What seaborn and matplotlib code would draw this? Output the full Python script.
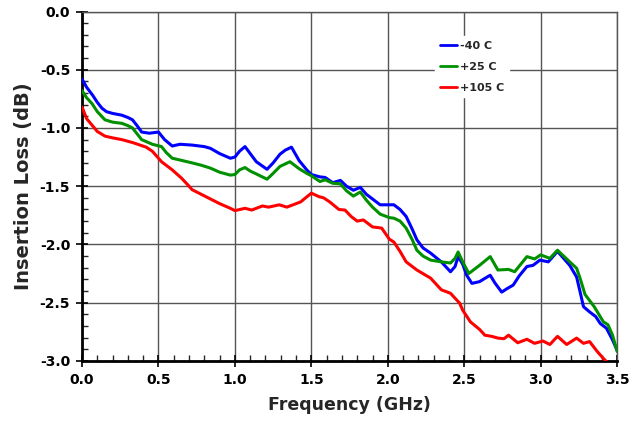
import matplotlib
matplotlib.use('Agg')
import matplotlib.pyplot as plt
from matplotlib.ticker import MultipleLocator, FormatStrFormatter
import numpy as np
import pandas as pd
import seaborn as sns

# -40 C
f_cold = [0.00, 0.03, 0.07, 0.10, 0.13, 0.16, 0.20, 0.26, 0.30, 0.33, 0.36, 0.39, 0.44, 0.50,
          0.54, 0.59, 0.64, 0.72, 0.80, 0.84, 0.90, 0.97, 1.00, 1.03, 1.066, 1.10, 1.14, 1.21,
          1.25, 1.295, 1.33, 1.37, 1.42, 1.47, 1.50, 1.556, 1.59, 1.64, 1.69, 1.73, 1.775, 1.82,
          1.86, 1.90, 1.95, 2.01, 2.04, 2.08, 2.12, 2.16, 2.19, 2.23, 2.28, 2.35, 2.41, 2.44,
          2.46, 2.49, 2.516, 2.55, 2.60, 2.65, 2.67, 2.70, 2.745, 2.78, 2.82, 2.86, 2.91, 2.95,
          2.995, 3.05, 3.11, 3.15, 3.19, 3.235, 3.26, 3.28, 3.32, 3.36, 3.39, 3.43, 3.47, 3.50]
il_cold = [-0.58, -0.65, -0.72, -0.78, -0.83, -0.86, -0.875, -0.89, -0.91, -0.93, -0.98, -1.035,
           -1.045, -1.035, -1.10, -1.155, -1.14, -1.147, -1.16, -1.175, -1.22, -1.26, -1.25, -1.20,
           -1.16, -1.22, -1.29, -1.355, -1.30, -1.225, -1.19, -1.165, -1.28, -1.36, -1.40, -1.42,
           -1.425, -1.47, -1.45, -1.50, -1.535, -1.51, -1.57, -1.61, -1.66, -1.66, -1.66, -1.70,
           -1.76, -1.87, -1.96, -2.03, -2.075, -2.15, -2.235, -2.19, -2.105, -2.17, -2.265, -2.335,
           -2.32, -2.28, -2.265, -2.33, -2.41, -2.38, -2.35, -2.27, -2.19, -2.18, -2.135, -2.15,
           -2.06, -2.12, -2.18, -2.28, -2.42, -2.535, -2.58, -2.62, -2.68, -2.72, -2.82, -2.91]

# +25 C
f_room = [0.00, 0.03, 0.065, 0.10, 0.15, 0.20, 0.26, 0.30, 0.33, 0.36, 0.39, 0.46, 0.52, 0.55,
          0.59, 0.64, 0.72, 0.78, 0.84, 0.90, 0.97, 1.00, 1.03, 1.066, 1.10, 1.14, 1.21, 1.25,
          1.295, 1.36, 1.42, 1.47, 1.50, 1.556, 1.59, 1.64, 1.69, 1.73, 1.775, 1.82, 1.86, 1.90,
          1.95, 2.01, 2.04, 2.08, 2.12, 2.16, 2.19, 2.23, 2.28, 2.35, 2.41, 2.44, 2.46, 2.49,
          2.53, 2.60, 2.67, 2.72, 2.79, 2.83, 2.87, 2.91, 2.96, 3.00, 3.06, 3.11, 3.15, 3.19,
          3.235, 3.26, 3.29, 3.35, 3.41, 3.44, 3.47, 3.50]
il_room = [-0.68, -0.74, -0.79, -0.86, -0.93, -0.95, -0.96, -0.98, -1.00, -1.05, -1.10, -1.14,
           -1.16, -1.21, -1.26, -1.275, -1.30, -1.32, -1.345, -1.38, -1.405, -1.40, -1.36, -1.34,
           -1.37, -1.395, -1.44, -1.39, -1.33, -1.29, -1.35, -1.39, -1.41, -1.46, -1.445, -1.475,
           -1.48, -1.54, -1.585, -1.55, -1.62, -1.68, -1.74, -1.77, -1.775, -1.80, -1.86, -1.96,
           -2.05, -2.10, -2.135, -2.15, -2.16, -2.12, -2.065, -2.15, -2.25, -2.18, -2.105, -2.22,
           -2.215, -2.235, -2.17, -2.105, -2.125, -2.09, -2.12, -2.05, -2.10, -2.15, -2.205, -2.30,
           -2.43, -2.535, -2.665, -2.69, -2.78, -2.92]

# +105 C
f_hot = [0.00, 0.03, 0.065, 0.10, 0.15, 0.20, 0.26, 0.33, 0.42, 0.46, 0.52, 0.59, 0.65, 0.70,
         0.72, 0.78, 0.84, 0.90, 0.97, 1.00, 1.066, 1.11, 1.18, 1.22, 1.29, 1.34, 1.43, 1.50,
         1.55, 1.58, 1.62, 1.68, 1.72, 1.76, 1.80, 1.84, 1.90, 1.96, 2.01, 2.04, 2.08, 2.12,
         2.19, 2.28, 2.35, 2.41, 2.47, 2.49, 2.54, 2.60, 2.635, 2.68, 2.72, 2.76, 2.79, 2.85,
         2.91, 2.96, 3.015, 3.06, 3.11, 3.17, 3.235, 3.28, 3.32, 3.37, 3.41, 3.44]
il_hot = [-0.82, -0.92, -0.975, -1.03, -1.07, -1.085, -1.10, -1.125, -1.165, -1.20, -1.29, -1.36,
          -1.43, -1.50, -1.53, -1.57, -1.61, -1.65, -1.69, -1.71, -1.69, -1.705, -1.67, -1.68,
          -1.66, -1.68, -1.635, -1.56, -1.59, -1.60, -1.635, -1.70, -1.705, -1.76, -1.80, -1.79,
          -1.85, -1.86, -1.955, -1.98, -2.06, -2.15, -2.22, -2.29, -2.39, -2.42, -2.505, -2.565,
          -2.665, -2.73, -2.78, -2.79, -2.805, -2.81, -2.78, -2.845, -2.815, -2.85, -2.83, -2.86,
          -2.79, -2.86, -2.805, -2.85, -2.835, -2.92, -2.98, -3.02]

labels = ['-40 C', '+25 C', '+105 C']
colors = ['#0000ff', '#009000', '#ff0000']

df = pd.concat([
    pd.DataFrame({'freq': f_cold, 'il': il_cold, 'temp': labels[0]}),
    pd.DataFrame({'freq': f_room, 'il': il_room, 'temp': labels[1]}),
    pd.DataFrame({'freq': f_hot, 'il': il_hot, 'temp': labels[2]}),
])

sns.set_style('white')
plt.rcParams['font.family'] = ['DejaVu Sans']
plt.rcParams['font.weight'] = 'bold'
plt.rcParams['lines.solid_joinstyle'] = 'round'
plt.rcParams['lines.solid_capstyle'] = 'round'

fig = plt.figure(figsize=(6.31, 4.28), dpi=100)
ax = fig.add_axes([0.13, 0.157, 0.848, 0.816])

sns.lineplot(data=df, x='freq', y='il', hue='temp', palette=dict(zip(labels, colors)),
             sort=False, linewidth=2.2, ax=ax, zorder=3)

ax.set_xlim(0, 3.5)
ax.set_ylim(-3.0, 0.0)
ax.xaxis.set_major_locator(MultipleLocator(0.5))
ax.xaxis.set_minor_locator(MultipleLocator(0.1))
ax.yaxis.set_major_locator(MultipleLocator(0.5))
ax.yaxis.set_minor_locator(MultipleLocator(0.1))
ax.xaxis.set_major_formatter(FormatStrFormatter('%.1f'))
ax.yaxis.set_major_formatter(FormatStrFormatter('%.1f'))

ax.grid(True, which='major', color='#555555', linewidth=1.0, zorder=0)
ax.set_axisbelow(True)
ax.tick_params(which='major', direction='inout', length=9, width=1.2, colors='black',
               labelsize=10, bottom=True, left=True, pad=4)
ax.tick_params(which='minor', direction='in', length=4, width=1.0, bottom=True, left=True)
for lab in ax.get_xticklabels() + ax.get_yticklabels():
    lab.set_fontweight('bold')

for s in ['left', 'bottom']:
    ax.spines[s].set_color('black')
    ax.spines[s].set_linewidth(2.0)
for s in ['top', 'right']:
    ax.spines[s].set_color('#555555')
    ax.spines[s].set_linewidth(1.0)

ax.set_xlabel('Frequency (GHz)', fontsize=12.5, fontweight='bold', labelpad=7)
ax.set_ylabel('Insertion Loss (dB)', fontsize=14, fontweight='bold', labelpad=5)

leg = ax.legend(loc='upper left', bbox_to_anchor=(0.65, 0.945), frameon=True, framealpha=1,
                edgecolor='white', facecolor='white', fancybox=False, handlelength=1.5,
                handletextpad=0.3, labelspacing=1.0, prop={'size': 8, 'weight': 'bold'})
for line in leg.get_lines():
    line.set_linewidth(2.0)

fig.savefig('out.png', dpi=100)
